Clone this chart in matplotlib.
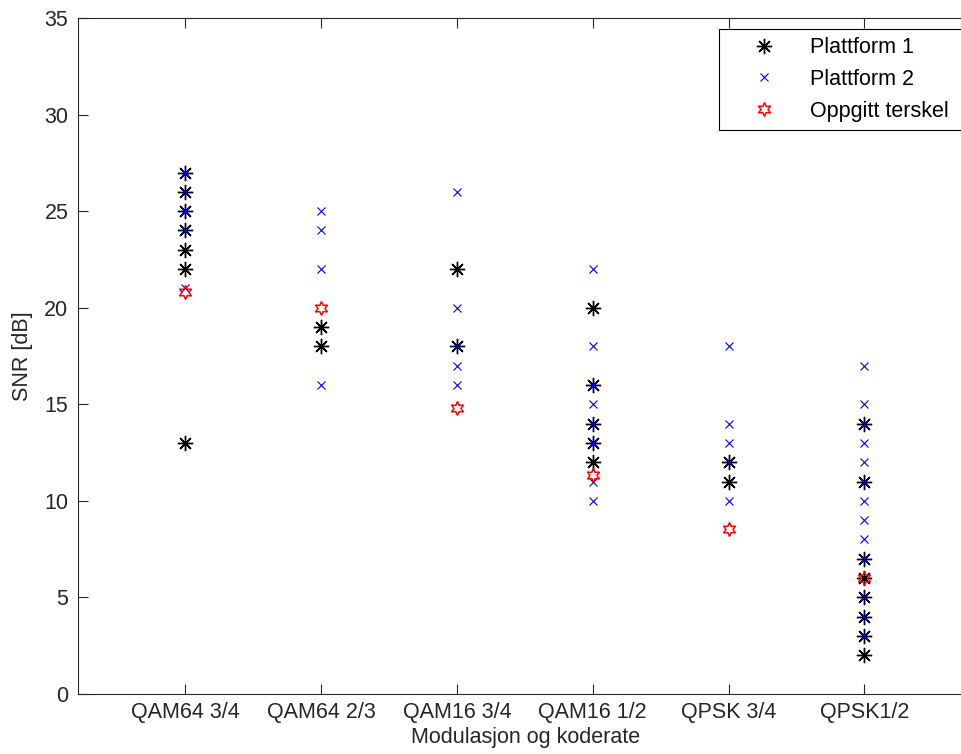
import matplotlib
matplotlib.use("Agg")
import matplotlib.pyplot as plt

plt.rcParams['font.family'] = ['Liberation Sans', 'DejaVu Sans']

# modulasjon og koderate
kategorier = ['QAM64 3/4', 'QAM64 2/3', 'QAM16 3/4', 'QAM16 1/2', 'QPSK 3/4', 'QPSK1/2']

# SNR-verdier [dB] per kategori
plattform1 = [
    [27, 26, 25, 24, 23, 22, 13],
    [19, 18],
    [22, 18],
    [20, 16, 14, 13, 12],
    [12, 11],
    [14, 11, 7, 6, 5, 4, 3, 2],
]
plattform2 = [
    [27, 26, 25, 24, 21],
    [25, 24, 22, 16],
    [26, 20, 18, 17, 16],
    [22, 18, 16, 15, 14, 13, 11, 10],
    [18, 14, 13, 12, 10],
    [17, 15, 14, 13, 12, 11, 10, 9, 8, 7, 5, 4, 3],
]
terskel = [20.8, 20, 14.8, 11.35, 8.55, 6]


def xy(grupper):
    xs, ys = [], []
    for i, g in enumerate(grupper):
        xs += [i + 1] * len(g)
        ys += g
    return xs, ys


fs = 15.5
tekst = '#262626'
fig = plt.figure(figsize=(9.61, 7.54), dpi=100)
ax = fig.add_axes([78 / 961, 60 / 754, 895 / 961, 676 / 754])

x1, y1 = xy(plattform1)
x2, y2 = xy(plattform2)
ax.plot(x1, y1, linestyle='none', marker=(8, 2, 0), markersize=11,
        color='k', markeredgewidth=1.0, label='Plattform 1')
ax.plot(x2, y2, linestyle='none', marker='x', markersize=6,
        color='b', markeredgewidth=0.8, label='Plattform 2')
ax.plot(range(1, len(terskel) + 1), terskel, linestyle='none',
        marker=(6, 1, 0), markersize=10, markerfacecolor='none',
        markeredgecolor='r', markeredgewidth=1.1, label='Oppgitt terskel')

ax.set_xlim(0.21, 6.8)
ax.set_ylim(0, 35)
ax.set_xticks(range(1, 7))
ax.set_xticklabels(kategorier)
ax.set_yticks(range(0, 36, 5))
ax.tick_params(direction='in', length=7, width=0.8, top=True, right=True,
               labelsize=fs, colors=tekst)
ax.tick_params(axis='y', pad=7)
ax.tick_params(axis='x', pad=6)
for s in ax.spines.values():
    s.set_linewidth(0.8)
    s.set_color(tekst)

ax.set_xlabel('Modulasjon og koderate', fontsize=fs, labelpad=3, color=tekst)
ax.set_ylabel('SNR [dB]', fontsize=fs, labelpad=8, color=tekst)

# legendeboks strekker seg ut mot høyre kant
leg = ax.legend(loc='upper left', mode='expand',
                bbox_to_anchor=(719 / 961, 1 - 129 / 754, 262 / 961, 100 / 754),
                bbox_transform=fig.transFigure, fancybox=False,
                edgecolor='k', framealpha=1, fontsize=fs, borderaxespad=0,
                handlelength=3.4, labelspacing=0.5, handletextpad=0.45,
                borderpad=0.38)
leg.get_frame().set_linewidth(0.8)

fig.savefig('out.png', dpi=100)
